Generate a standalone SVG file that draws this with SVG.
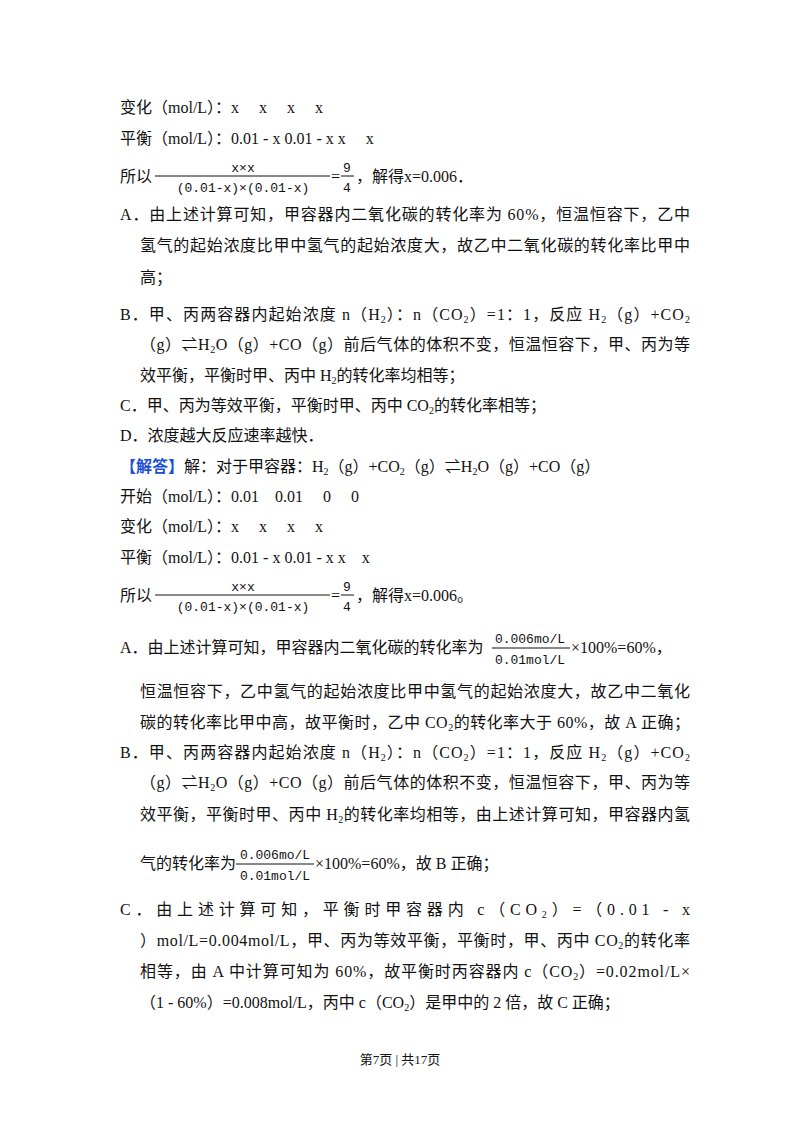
<svg xmlns="http://www.w3.org/2000/svg" width="800" height="1132" viewBox="0 0 800 1132">
<style>
text{font-family:"Liberation Serif","Noto Sans CJK SC",serif;font-size:16px;fill:#111}
.m{font-family:"Liberation Mono","Noto Sans CJK SC",monospace;font-size:13px}
.s{font-size:10px}
.b{fill:#1a4fd6;font-weight:bold}
line{stroke:#111;stroke-width:1}
</style>
<rect width="800" height="1132" fill="#fff"/>
<g id="top">
<text x="120" y="113">变化（mol/L）：x　  x　  x　   x</text>
<text x="120" y="144">平衡（mol/L）：0.01 - x  0.01 - x  x　  x</text>
<text x="120" y="182">所以</text>
<text class="m" x="243" y="172" text-anchor="middle">x×x</text>
<line x1="155" y1="176" x2="330" y2="176"/>
<text class="m" x="243" y="192" text-anchor="middle">(0.01-x)×(0.01-x)</text>
<text x="331" y="182">=</text>
<text class="m" x="347" y="172" text-anchor="middle">9</text>
<line x1="341" y1="176" x2="354" y2="176"/>
<text class="m" x="347" y="192" text-anchor="middle">4</text>
<text x="356" y="182">，解得x=0.006．</text>
<text x="120" y="220" textLength="570">A．由上述计算可知，甲容器内二氧化碳的转化率为 60%，恒温恒容下，乙中</text>
<text x="140" y="251" textLength="550">氢气的起始浓度比甲中氢气的起始浓度大，故乙中二氧化碳的转化率比甲中</text>
<text x="140" y="283">高；</text>
<text x="120" y="320" textLength="570">B．甲、丙两容器内起始浓度 n（H<tspan class="s" dy="3">2</tspan><tspan dy="-3">）：n（CO</tspan><tspan class="s" dy="3">2</tspan><tspan dy="-3">）=1：1，反应 H</tspan><tspan class="s" dy="3">2</tspan><tspan dy="-3">（g）+CO</tspan><tspan class="s" dy="3">2</tspan></text>
<text x="140" y="350" textLength="550">（g）⇌H<tspan class="s" dy="3">2</tspan><tspan dy="-3">O（g）+CO（g）前后气体的体积不变，恒温恒容下，甲、丙为等</tspan></text>
<text x="140" y="381">效平衡，平衡时甲、丙中 H<tspan class="s" dy="3">2</tspan><tspan dy="-3">的转化率均相等；</tspan></text>
<text x="120" y="411">C．甲、丙为等效平衡，平衡时甲、丙中 CO<tspan class="s" dy="3">2</tspan><tspan dy="-3">的转化率相等；</tspan></text>
<text x="120" y="441">D．浓度越大反应速率越快．</text>
</g>
<g id="answer">
<text x="120" y="472"><tspan class="b">【解答】</tspan>解：对于甲容器：H<tspan class="s" dy="3">2</tspan><tspan dy="-3">（g）+CO</tspan><tspan class="s" dy="3">2</tspan><tspan dy="-3">（g）⇌H</tspan><tspan class="s" dy="3">2</tspan><tspan dy="-3">O（g）+CO（g）</tspan></text>
<text x="120" y="502">开始（mol/L）：0.01　0.01　  0　  0</text>
<text x="120" y="532">变化（mol/L）：x　  x　  x　  x</text>
<text x="120" y="563">平衡（mol/L）：0.01 - x  0.01 - x  x　x</text>
<text x="120" y="601">所以</text>
<text class="m" x="243" y="591" text-anchor="middle">x×x</text>
<line x1="155" y1="595" x2="330" y2="595"/>
<text class="m" x="243" y="611" text-anchor="middle">(0.01-x)×(0.01-x)</text>
<text x="331" y="601">=</text>
<text class="m" x="347" y="591" text-anchor="middle">9</text>
<line x1="341" y1="595" x2="354" y2="595"/>
<text class="m" x="347" y="611" text-anchor="middle">4</text>
<text x="356" y="601">，解得x=0.006。</text>
<text x="120" y="653">A．由上述计算可知，甲容器内二氧化碳的转化率为</text>
<text class="m" x="530" y="643" text-anchor="middle">0.006mo/L</text>
<line x1="492" y1="648" x2="570" y2="648"/>
<text class="m" x="530" y="664" text-anchor="middle">0.01mol/L</text>
<text x="571" y="653">×100%=60%，</text>
<text x="140" y="697" textLength="550">恒温恒容下，乙中氢气的起始浓度比甲中氢气的起始浓度大，故乙中二氧化</text>
<text x="140" y="728" textLength="550">碳的转化率比甲中高，故平衡时，乙中 CO<tspan class="s" dy="3">2</tspan><tspan dy="-3">的转化率大于 60%，故 A 正确；</tspan></text>
<text x="120" y="758" textLength="570">B．甲、丙两容器内起始浓度 n（H<tspan class="s" dy="3">2</tspan><tspan dy="-3">）：n（CO</tspan><tspan class="s" dy="3">2</tspan><tspan dy="-3">）=1：1，反应 H</tspan><tspan class="s" dy="3">2</tspan><tspan dy="-3">（g）+CO</tspan><tspan class="s" dy="3">2</tspan></text>
<text x="140" y="788" textLength="550">（g）⇌H<tspan class="s" dy="3">2</tspan><tspan dy="-3">O（g）+CO（g）前后气体的体积不变，恒温恒容下，甲、丙为等</tspan></text>
<text x="140" y="820" textLength="550">效平衡，平衡时甲、丙中 H<tspan class="s" dy="3">2</tspan><tspan dy="-3">的转化率均相等，由上述计算可知，甲容器内氢</tspan></text>
<text x="140" y="869">气的转化率为</text>
<text class="m" x="275" y="859" text-anchor="middle">0.006mo/L</text>
<line x1="236" y1="864" x2="314" y2="864"/>
<text class="m" x="275" y="880" text-anchor="middle">0.01mol/L</text>
<text x="315" y="869">×100%=60%，故 B 正确；</text>
<text x="120" y="915" textLength="570">C．由上述计算可知，平衡时甲容器内 c（CO<tspan class="s" dy="3">2</tspan><tspan dy="-3">）=（0.01 - x</tspan></text>
<text x="140" y="946" textLength="550">）mol/L=0.004mol/L，甲、丙为等效平衡，平衡时，甲、丙中 CO<tspan class="s" dy="3">2</tspan><tspan dy="-3">的转化率</tspan></text>
<text x="140" y="977" textLength="550">相等，由 A 中计算可知为 60%，故平衡时丙容器内 c（CO<tspan class="s" dy="3">2</tspan><tspan dy="-3">）=0.02mol/L×</tspan></text>
<text x="140" y="1008">（1 - 60%）=0.008mol/L，丙中 c（CO<tspan class="s" dy="3">2</tspan><tspan dy="-3">）是甲中的 2 倍，故 C 正确；</tspan></text>
</g>
<text x="400" y="1064" text-anchor="middle" style="font-size:13px">第7页 | 共17页</text>
</svg>
